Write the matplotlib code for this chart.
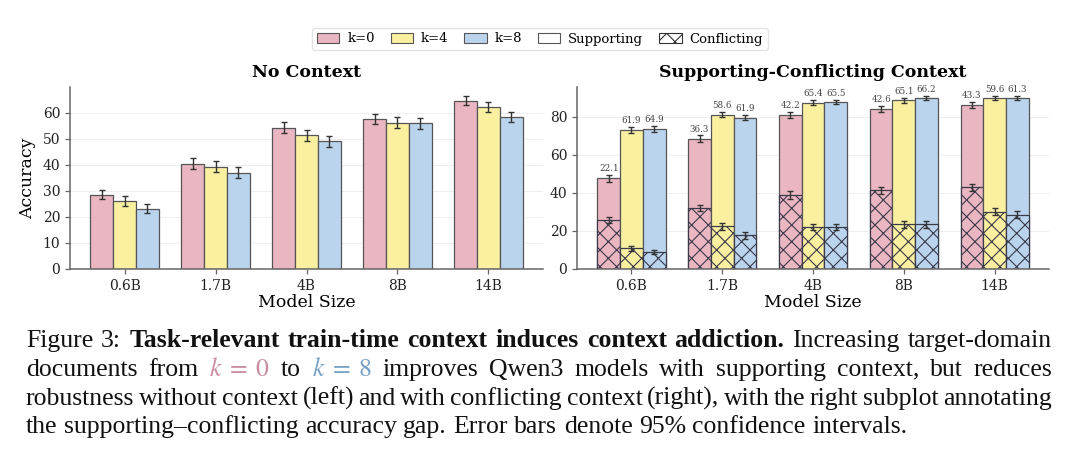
import matplotlib
matplotlib.use("Agg")
import matplotlib.pyplot as plt
from matplotlib.patches import Patch
from matplotlib import font_manager
import numpy as np

# ---------------- data ----------------
models = ["0.6B", "1.7B", "4B", "8B", "14B"]
k_labels = ["k=0", "k=4", "k=8"]

# No Context accuracy
nc_k0 = [28.6, 40.5, 54.3, 57.5, 64.7]
nc_k4 = [26.1, 39.3, 51.3, 56.2, 62.2]
nc_k8 = [23.2, 37.0, 49.0, 55.9, 58.3]
nc_err_k0 = [1.9, 2.0, 2.0, 2.0, 1.9]
nc_err_k4 = [1.9, 2.0, 2.0, 2.0, 2.0]
nc_err_k8 = [1.8, 2.0, 2.0, 2.0, 2.0]

# Supporting-context accuracy
sup_k0 = [47.6, 68.3, 81.0, 84.0, 86.1]
sup_k4 = [72.8, 81.0, 87.4, 88.5, 89.6]
sup_k8 = [73.7, 79.5, 87.6, 89.6, 89.7]
sup_err_k0 = [1.9, 1.8, 1.6, 1.5, 1.4]
sup_err_k4 = [1.6, 1.4, 1.2, 1.2, 1.1]
sup_err_k8 = [1.6, 1.5, 1.2, 1.1, 1.1]

# Conflicting-context accuracy
con_k0 = [25.5, 32.0, 38.8, 41.4, 42.8]
con_k4 = [10.9, 22.4, 22.0, 23.4, 30.0]
con_k8 = [8.8, 17.6, 22.1, 23.4, 28.4]
con_err_k0 = [1.6, 1.8, 1.9, 1.9, 1.9]
con_err_k4 = [1.2, 1.7, 1.7, 1.8, 1.9]
con_err_k8 = [1.1, 1.6, 1.7, 1.8, 1.8]

# annotated supporting-conflicting gaps
gap_k0 = ["22.1", "36.3", "42.2", "42.6", "43.3"]
gap_k4 = ["61.9", "58.6", "65.4", "65.1", "59.6"]
gap_k8 = ["64.9", "61.9", "65.5", "66.2", "61.3"]

# ---------------- style ----------------
colors = ["#EAB6C2", "#FBEFA0", "#BAD4EE"]
edge = "#555555"
ecol = "#333333"
avail = {f.name for f in font_manager.fontManager.ttflist}
serif_name = "DejaVu Serif" if "DejaVu Serif" in avail else "Liberation Serif"
plt.rcParams["font.family"] = "serif"
plt.rcParams["font.serif"] = [serif_name, "Liberation Serif"]
plt.rcParams["hatch.linewidth"] = 0.8

W, H = 1080, 466
fig = plt.figure(figsize=(W / 100, H / 100), dpi=100)

ax_bottom = 1 - 269 / H
ax_h = (269 - 86.7) / H
ax1 = fig.add_axes([70 / W, ax_bottom, 473 / W, ax_h])
ax2 = fig.add_axes([577 / W, ax_bottom, 472 / W, ax_h])

x = np.arange(len(models))
bw = 0.25
offs = [-bw, 0, bw]


def style_ax(ax):
    for s in ["top", "right"]:
        ax.spines[s].set_visible(False)
    for s in ["left", "bottom"]:
        ax.spines[s].set_color("#666666")
        ax.spines[s].set_linewidth(1.1)
    ax.tick_params(axis="both", labelsize=10, labelcolor="#222222",
                   length=3.5, width=0.9, color="#666666")
    ax.yaxis.grid(True, color="#eeeeee", linewidth=0.7)
    ax.set_axisbelow(True)
    ax.set_xticks(x)
    ax.set_xticklabels(models)
    ax.set_xlim(-0.6, 4.6)
    ax.set_xlabel("Model Size", fontsize=12.5, labelpad=1)


# ---- left: No Context ----
nc_vals = [nc_k0, nc_k4, nc_k8]
nc_errs = [nc_err_k0, nc_err_k4, nc_err_k8]
for j in range(3):
    ax1.bar(x + offs[j], nc_vals[j], bw, color=colors[j], edgecolor=edge,
            linewidth=0.9, yerr=nc_errs[j], capsize=2.2,
            error_kw=dict(ecolor=ecol, elinewidth=1.0, capthick=1.0))
style_ax(ax1)
ax1.set_ylim(0, 70)
ax1.set_yticks([0, 10, 20, 30, 40, 50, 60])
ax1.set_ylabel("Accuracy", fontsize=12.5, labelpad=5)
ax1.set_title("No Context", fontsize=12.5, fontweight="bold", pad=7)

# ---- right: Supporting-Conflicting ----
sup_vals = [sup_k0, sup_k4, sup_k8]
sup_errs = [sup_err_k0, sup_err_k4, sup_err_k8]
con_vals = [con_k0, con_k4, con_k8]
con_errs = [con_err_k0, con_err_k4, con_err_k8]
gaps = [gap_k0, gap_k4, gap_k8]
for j in range(3):
    ax2.bar(x + offs[j], sup_vals[j], bw, color=colors[j], edgecolor=edge,
            linewidth=0.9, yerr=sup_errs[j], capsize=2.2,
            error_kw=dict(ecolor=ecol, elinewidth=1.0, capthick=1.0))
    ax2.bar(x + offs[j], con_vals[j], bw, color=colors[j], edgecolor="#3a3a4a",
            linewidth=0.9, hatch="xx", yerr=con_errs[j], capsize=2.2,
            error_kw=dict(ecolor=ecol, elinewidth=1.0, capthick=1.0))
    for i in range(len(models)):
        ax2.text(x[i] + offs[j], sup_vals[j][i] + sup_errs[j][i] + 1.0,
                 gaps[j][i], ha="center", va="bottom", fontsize=6.3,
                 color="#444444")
style_ax(ax2)
ax2.set_ylim(0, 95.7)
ax2.set_yticks([0, 20, 40, 60, 80])
ax2.set_title("Supporting-Conflicting Context", fontsize=12.5,
              fontweight="bold", pad=7)

# ---- legend ----
handles = [Patch(facecolor=colors[j], edgecolor=edge, linewidth=0.8)
           for j in range(3)]
handles.append(Patch(facecolor="white", edgecolor=edge, linewidth=0.8))
handles.append(Patch(facecolor="white", edgecolor="#333333", linewidth=0.8,
                     hatch="xx"))
labels = k_labels + ["Supporting", "Conflicting"]
fig.legend(handles, labels, loc="center", bbox_to_anchor=(0.5, 1 - 39 / H),
           ncol=5, fontsize=9.5, frameon=True, handlelength=1.7,
           handleheight=0.8, columnspacing=1.2, handletextpad=0.6,
           borderpad=0.35, edgecolor="#dddddd", fancybox=True)

# ---------------- caption (justified) ----------------
cap_size = 18.5
cap_font = dict(family="Liberation Serif", fontsize=cap_size, color="#111111")
pink_txt = "#C98CA0"
blue_txt = "#76A1C4"
lines = [
    [("Figure 3:", {}), ("Task-relevant train-time context induces context addiction.", {"fontweight": "bold"}),
     ("Increasing target-domain", {})],
    [("documents from", {}), ("$k\\;=\\;0$", {"color": pink_txt, "math": True}), ("to", {}),
     ("$k\\;=\\;8$", {"color": blue_txt, "math": True}),
     ("improves Qwen3 models with supporting context, but reduces", {})],
    [("robustness without context (left) and with conflicting context (right), with the right subplot annotating", {})],
    [("the supporting\u2013conflicting accuracy gap. Error bars denote 95% confidence intervals.", {})],
]
baselines = [347, 376, 405, 433]
x_left, x_right = 26, 1052

renderer = fig.canvas.get_renderer()
for li, segs in enumerate(lines):
    words = []
    for text, props in segs:
        p = dict(cap_font)
        is_math = props.get("math", False)
        for k, v in props.items():
            if k != "math":
                p[k] = v
        if is_math:
            words.append((text, p, True))
        else:
            for w in text.split(" "):
                words.append((w, p, False))
    objs = []
    for w, p, is_math in words:
        kw = dict(p)
        if is_math:
            kw["math_fontfamily"] = "stix"
        t = fig.text(0, 1 - baselines[li] / H, w, va="baseline", ha="left",
                     **kw)
        objs.append(t)
    widths = [t.get_window_extent(renderer).width for t in objs]
    total = sum(widths)
    n = len(objs)
    if li < len(lines) - 1 and n > 1:
        gap = (x_right - x_left - total) / (n - 1)
    else:
        gap = 0.25 * cap_size * 100 / 72
    cx = x_left
    for t, w in zip(objs, widths):
        t.set_x(cx / W)
        cx += w + gap

fig.savefig("out.png", dpi=100)
